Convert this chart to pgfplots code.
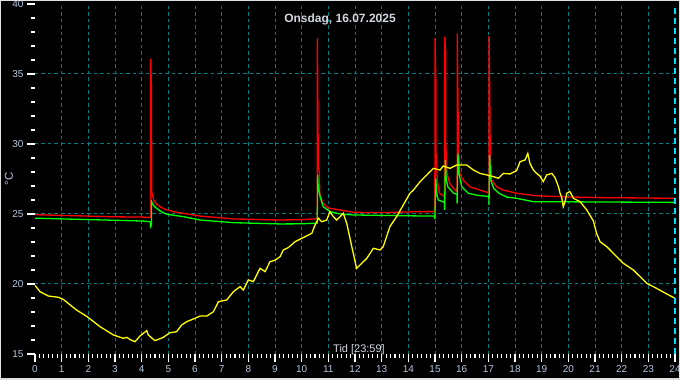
\documentclass[border=0pt]{standalone}
\usepackage{fontspec}
\setmainfont{Liberation Sans}
\usepackage{pgfplots}
\pgfplotsset{compat=1.18}
\definecolor{gridteal}{RGB}{0,125,125}
\definecolor{ticklab}{RGB}{180,200,222}
\definecolor{titlecol}{RGB}{210,215,225}
\definecolor{nowcyan}{RGB}{0,225,255}
\definecolor{ired}{RGB}{255,0,0}
\definecolor{igreen}{RGB}{0,255,0}
\definecolor{iyellow}{RGB}{255,255,0}
\begin{document}
\begin{tikzpicture}
\fill[black] (-35pt,-26pt) rectangle (645pt,354pt);
\begin{axis}[
  at={(0pt,0pt)}, anchor=south west,
  scale only axis, width=640pt, height=350pt,
  xmin=0, xmax=24, ymin=15, ymax=40,
  clip=false,
  axis line style={draw=none},
  xtick pos=bottom, ytick pos=left,
  xtick={1,...,23}, extra x ticks={0,24}, extra x tick style={grid=none},
  ytick={20,25,30,35}, extra y ticks={15,40}, extra y tick style={grid=none},
  minor xtick={0,0.1666667,...,24},
  minor ytick={16,...,39},
  grid=major,
  major grid style={gridteal, line width=1pt, dash pattern=on 3.5pt off 3pt},
  tick align=outside, major tick length=8pt, minor tick length=4pt,
  tick style={white, line width=1.1pt},
  ticklabel style={ticklab, font=\fontsize{10}{12}\selectfont},
  /pgf/number format/assume math mode=true,
]
% red
\addplot[ired, line width=1.3pt] coordinates {
(0,24.95) (1,24.9) (2,24.85) (3,24.8) (4,24.78) (4.33,24.75)
(4.335,36.1) (4.37,33.9) (4.375,26.6) (4.45,26.0) (4.56,25.7) (4.75,25.45)
(4.94,25.3) (5.25,25.15) (5.56,25.05) (6.19,24.85) (7.0,24.72) (7.44,24.65)
(8.5,24.6) (9.19,24.57) (10.0,24.6) (10.5,24.65) (10.585,24.7)
(10.59,37.55) (10.62,29.7) (10.625,28.4) (10.66,28.0) (10.68,26.5) (10.75,26.0)
(10.81,25.76) (10.95,25.5) (11.06,25.4) (11.44,25.29) (11.94,25.12) (13,25.1)
(14.44,25.17) (14.995,25.17)
(15.0,37.55) (15.035,34.33) (15.04,29.33) (15.07,28.0) (15.1,27.19) (15.17,26.48) (15.3,26.33)
(15.36,26.2) (15.365,37.67) (15.4,36.6) (15.405,30.05) (15.45,27.9) (15.55,27.19) (15.75,26.71) (15.83,26.6)
(15.835,37.9) (15.87,31.6) (15.875,29.57) (15.93,27.9) (16.05,27.43) (16.3,26.95) (16.69,26.71) (17.0,26.52) (17.025,26.5)
(17.03,37.71) (17.065,31.12) (17.07,29.0) (17.12,27.43) (17.31,26.95) (17.56,26.71) (17.8,26.6)
(18.06,26.48) (18.69,26.33) (18.94,26.29) (20,26.22) (21.19,26.17) (22.5,26.15) (24.0,26.12)
};
% green
\addplot[igreen, line width=1.3pt] coordinates {
(0,24.7) (1,24.65) (2,24.6) (3,24.55) (4.0,24.5) (4.33,24.45)
(4.335,24.1) (4.365,24.2) (4.37,25.9) (4.45,25.6) (4.56,25.4) (4.75,25.15)
(4.94,24.98) (5.56,24.81) (6.19,24.57) (7.44,24.38) (9.19,24.29) (10.0,24.3) (10.585,24.35)
(10.6,27.8) (10.62,27.0) (10.69,26.24) (10.81,25.52) (11.06,25.17) (11.44,25.0)
(11.94,24.93) (14.44,24.86) (14.99,24.86)
(14.995,24.64) (15.03,27.55) (15.06,26.5) (15.12,26.0) (15.3,25.88) (15.355,25.8)
(15.36,25.29) (15.39,28.86) (15.42,27.5) (15.48,26.95) (15.7,26.48) (15.825,26.4)
(15.83,25.76) (15.86,29.33) (15.9,27.9) (16.0,26.95) (16.25,26.48) (16.6,26.33) (17.0,26.25) (17.02,26.2)
(17.025,25.64) (17.05,29.21) (17.09,27.43) (17.2,26.83) (17.4,26.48) (17.7,26.2)
(18.06,26.12) (18.69,25.88) (20,25.87) (22,25.85) (24,25.83)
};
% yellow
\addplot[iyellow, line width=1.3pt] coordinates {
(0,19.9) (0.19,19.45) (0.5,19.14) (0.88,19.05) (1.06,18.9) (1.56,18.14) (1.96,17.66)
(2.44,16.95) (2.94,16.36) (3.31,16.12) (3.44,16.19) (3.6,16.0) (3.75,15.88) (3.94,16.29)
(4.19,16.67) (4.25,16.36) (4.5,15.95) (4.81,16.19) (5.06,16.52) (5.31,16.59) (5.5,17.07)
(5.69,17.31) (6.0,17.55) (6.19,17.71) (6.44,17.71) (6.69,18.02) (6.88,18.74) (7.19,18.86)
(7.44,19.45) (7.69,19.81) (7.81,19.57) (8.0,20.29) (8.19,20.17) (8.44,21.12) (8.63,20.88)
(8.81,21.59) (9.0,21.7) (9.19,21.95) (9.31,22.43) (9.5,22.6) (9.75,23.02) (10.0,23.26)
(10.25,23.5) (10.38,23.62) (10.5,24.21) (10.63,24.69) (10.75,24.45) (10.94,24.57)
(11.06,25.17) (11.19,24.81) (11.31,24.57) (11.44,24.81) (11.56,25.05) (11.69,24.33)
(11.88,22.67) (12.06,21.12) (12.19,21.36) (12.44,21.83) (12.69,22.55) (12.94,22.43)
(13.06,22.67) (13.31,24.1) (13.56,24.81) (13.81,25.64) (14.06,26.48) (14.19,26.71)
(14.44,27.31) (14.81,28.02) (14.94,28.26) (15.19,28.14) (15.31,28.43) (15.56,28.26)
(15.81,28.5) (16.19,28.5) (16.44,28.14) (16.69,27.9) (16.94,27.79) (17.19,27.67)
(17.38,27.55) (17.56,27.9) (17.81,27.86) (18.06,28.1) (18.19,28.74) (18.38,28.86)
(18.48,29.33) (18.56,28.62) (18.69,28.14) (18.81,27.9) (18.94,27.7) (19.06,27.31)
(19.19,27.79) (19.38,27.9) (19.5,27.6) (19.63,26.95) (19.69,26.48) (19.75,26.2)
(19.81,25.52) (19.88,25.9) (19.94,26.48) (20.06,26.6) (20.19,26.12) (20.44,25.88)
(20.69,25.29) (20.94,24.5) (21.06,23.62) (21.19,23.02) (21.44,22.67) (21.69,22.19)
(22.06,21.48) (22.44,21.0) (22.94,20.05) (23.31,19.69) (23.69,19.29) (24.0,18.98)
};
% current-time marker
\addplot[nowcyan, line width=1.2pt, dash pattern=on 6pt off 4pt] coordinates {(24,15) (24,40)};
\end{axis}
\node[titlecol, anchor=base, font=\bfseries\fontsize{12}{14}\selectfont] at (305pt,331pt) {Onsdag, 16.07.2025};
\node[titlecol, anchor=base, font=\fontsize{11}{13}\selectfont] at (324pt,1.5pt) {Tid [23:59]};
\node[ticklab, rotate=90, font=\fontsize{11.5}{13}\selectfont] at (-26pt,175pt) {°C};
\draw[white!88!black, line width=1.5pt] (-34.25pt,-25.25pt) rectangle (644.25pt,353.25pt);
\pgfresetboundingbox
\useasboundingbox (-35pt,-26pt) rectangle (645pt,354pt);
\end{tikzpicture}
\end{document}
